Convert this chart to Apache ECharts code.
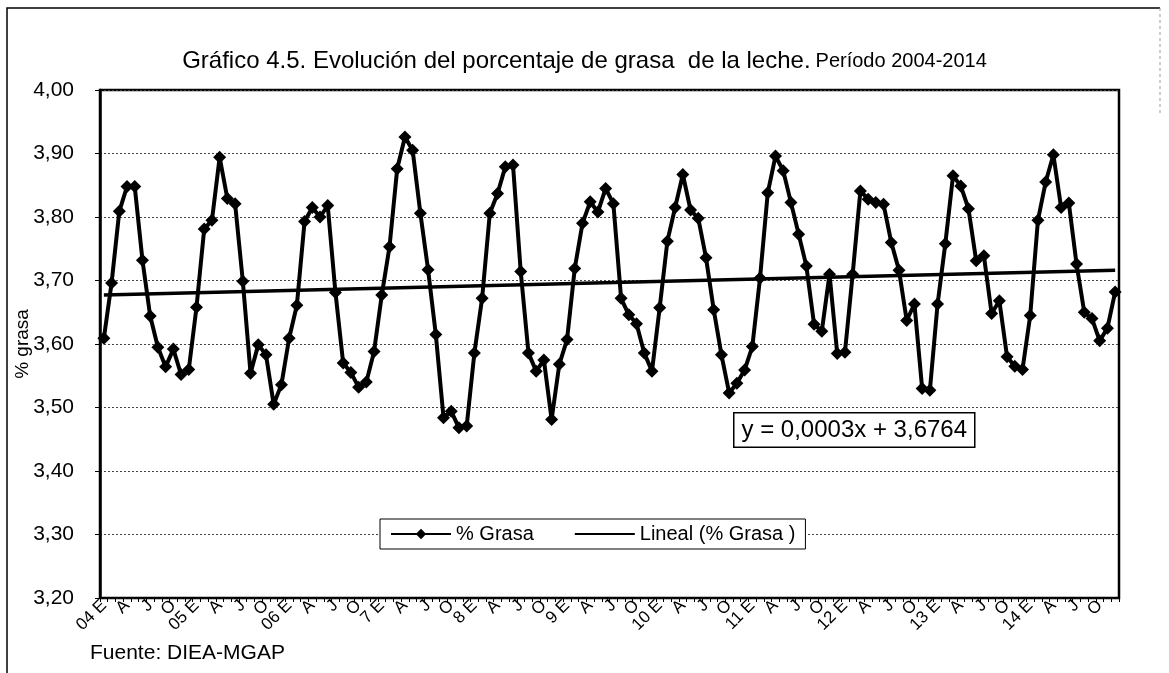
<!DOCTYPE html>
<html>
<head>
<meta charset="utf-8">
<script src="https://cdn.jsdelivr.net/npm/echarts@6/dist/echarts.min.js"></script>
<style>
html,body{margin:0;padding:0;background:#fff;}
#chart{width:1169px;height:673px;}
</style>
</head>
<body>
<div id="chart"></div>
<script>
// ---- data ----
const monthCodes = ['E','F','M','A','M','J','J','A','S','O','N','D'];
const yearCodes = ['04','05','06','7','8','9','10','11','12','13','14'];
const g2004 = [3.609,3.696,3.809,3.848,3.848,3.732,3.644,3.595,3.564,3.592,3.552,3.560];
const g2005 = [3.658,3.781,3.795,3.894,3.829,3.821,3.699,3.554,3.599,3.583,3.505,3.536];
const g2006 = [3.609,3.661,3.793,3.815,3.800,3.818,3.681,3.570,3.555,3.532,3.540,3.588];
const g2007 = [3.677,3.753,3.876,3.926,3.905,3.806,3.717,3.615,3.484,3.494,3.468,3.471];
const g2008 = [3.586,3.672,3.806,3.837,3.879,3.882,3.714,3.586,3.557,3.575,3.481,3.568];
const g2009 = [3.607,3.719,3.790,3.824,3.808,3.845,3.821,3.672,3.646,3.632,3.586,3.557];
const g2010 = [3.657,3.762,3.815,3.867,3.811,3.798,3.736,3.654,3.583,3.523,3.538,3.559];
const g2011 = [3.596,3.704,3.838,3.896,3.873,3.823,3.773,3.723,3.631,3.620,3.710,3.585];
const g2012 = [3.587,3.710,3.841,3.828,3.823,3.820,3.760,3.716,3.637,3.663,3.530,3.527];
const g2013 = [3.663,3.758,3.865,3.849,3.813,3.731,3.739,3.648,3.668,3.580,3.565,3.560];
const g2014 = [3.645,3.795,3.855,3.898,3.815,3.822,3.726,3.650,3.640,3.605,3.625,3.682];
const yearValues = [g2004,g2005,g2006,g2007,g2008,g2009,g2010,g2011,g2012,g2013,g2014];
const trendStart = 3.677;   // trend line value at first month
const trendEnd = 3.716;     // trend line value at last month
const trendText = 'y = 0,0003x + 3,6764';
const yTicks = {min:3.2, max:4.0, step:0.1};

// ---- build ----
const categories = [];
const grasa = [];
yearValues.forEach((arr, yi) => {
  arr.forEach((v, mi) => {
    categories.push(mi === 0 ? yearCodes[yi] + ' ' + monthCodes[mi] : monthCodes[mi]);
    grasa.push(v);
  });
});
const trend = categories.map(() => null);
trend[0] = trendStart;
trend[categories.length - 1] = trendEnd;

const FONT = 'Liberation Sans, Arial, sans-serif';
const chart = echarts.init(document.getElementById('chart'), null, {renderer:'canvas'});
chart.setOption({
  animation: false,
  backgroundColor: '#fff',
  title: {
    text: '{a|Gráfico 4.5. Evolución del porcentaje de grasa  de la leche.} {b|Período 2004-2014}',
    left: 'center',
    top: 44,
    textStyle: {
      fontWeight: 'normal',
      rich: {
        a: {fontSize: 24, fontFamily: FONT, color: '#000', fontWeight: 'normal'},
        b: {fontSize: 20, fontFamily: FONT, color: '#000', fontWeight: 'normal'}
      }
    }
  },
  grid: {left: 100, right: 50, top: 90, bottom: 75, containLabel: false, outerBoundsMode: 'none',
    show: true, borderColor: '#000', borderWidth: 2.5, backgroundColor: 'transparent'},
  legend: {
    left: 380, top: 519,
    backgroundColor: '#fff',
    borderColor: '#000', borderWidth: 1,
    padding: [5, 10],
    itemGap: 40,
    itemWidth: 60, itemHeight: 13,
    textStyle: {fontSize: 20, fontFamily: FONT, color: '#000'},
    data: [
      {name: '% Grasa'},
      {name: 'Lineal (% Grasa )', itemStyle: {color: 'rgba(0,0,0,0)', borderWidth: 0}}
    ]
  },
  xAxis: {
    type: 'category',
    data: categories,
    boundaryGap: true,
    axisLine: {lineStyle: {color: '#000', width: 1.5}},
    axisTick: {show: true, interval: 0, length: 4, lineStyle: {color: '#000'}},
    axisLabel: {interval: 2, rotate: 45, fontSize: 17, fontFamily: FONT, color: '#000', margin: 5},
    splitLine: {show: false}
  },
  yAxis: {
    type: 'value',
    min: yTicks.min, max: yTicks.max, interval: yTicks.step,
    name: '% grasa',
    nameLocation: 'middle',
    nameGap: 68,
    nameMoveOverlap: false,
    nameRotate: 90,
    nameTextStyle: {fontSize: 19, fontFamily: FONT, color: '#000'},
    axisLine: {show: true, lineStyle: {color: '#000', width: 2.5}},
    axisTick: {show: true, length: 5, lineStyle: {color: '#000'}},
    axisLabel: {fontSize: 21, fontFamily: FONT, color: '#000', margin: 26,
      formatter: v => v.toFixed(2).replace('.', ',')},
    splitLine: {lineStyle: {type: [2, 2], color: '#444', width: 1}}
  },
  graphic: [
    {type: 'polyline', silent: true, shape: {points: [[7, 673], [7, 8], [1160, 8]]}, style: {stroke: '#000', lineWidth: 1.5, fill: null}},
    {type: 'line', silent: true, shape: {x1: 1160, y1: 8, x2: 1160, y2: 115}, style: {stroke: '#999', lineWidth: 1, lineDash: [3, 3]}},
    {type: 'text', left: 733, top: 412, z: 100,
      style: {text: trendText, fontSize: 24, fontFamily: FONT, fill: '#000',
        backgroundColor: '#fff', borderColor: '#000', borderWidth: 1.5, padding: [5, 7, 4, 7]}},
    {type: 'text', left: 90, top: 643, style: {text: 'Fuente: DIEA-MGAP', fontSize: 21, fontFamily: FONT, fill: '#000'}}
  ],
  series: [
    {
      name: '% Grasa',
      type: 'line',
      data: grasa,
      symbol: 'diamond',
      symbolSize: 13,
      showSymbol: true,
      showAllSymbol: true,
      itemStyle: {color: '#000'},
      lineStyle: {color: '#000', width: 4},
      z: 3
    },
    {
      name: 'Lineal (% Grasa )',
      type: 'line',
      data: trend,
      connectNulls: true,
      symbol: 'none',
      itemStyle: {color: '#000'},
      lineStyle: {color: '#000', width: 3.5},
      z: 2
    }
  ]
});
</script>
</body>
</html>
